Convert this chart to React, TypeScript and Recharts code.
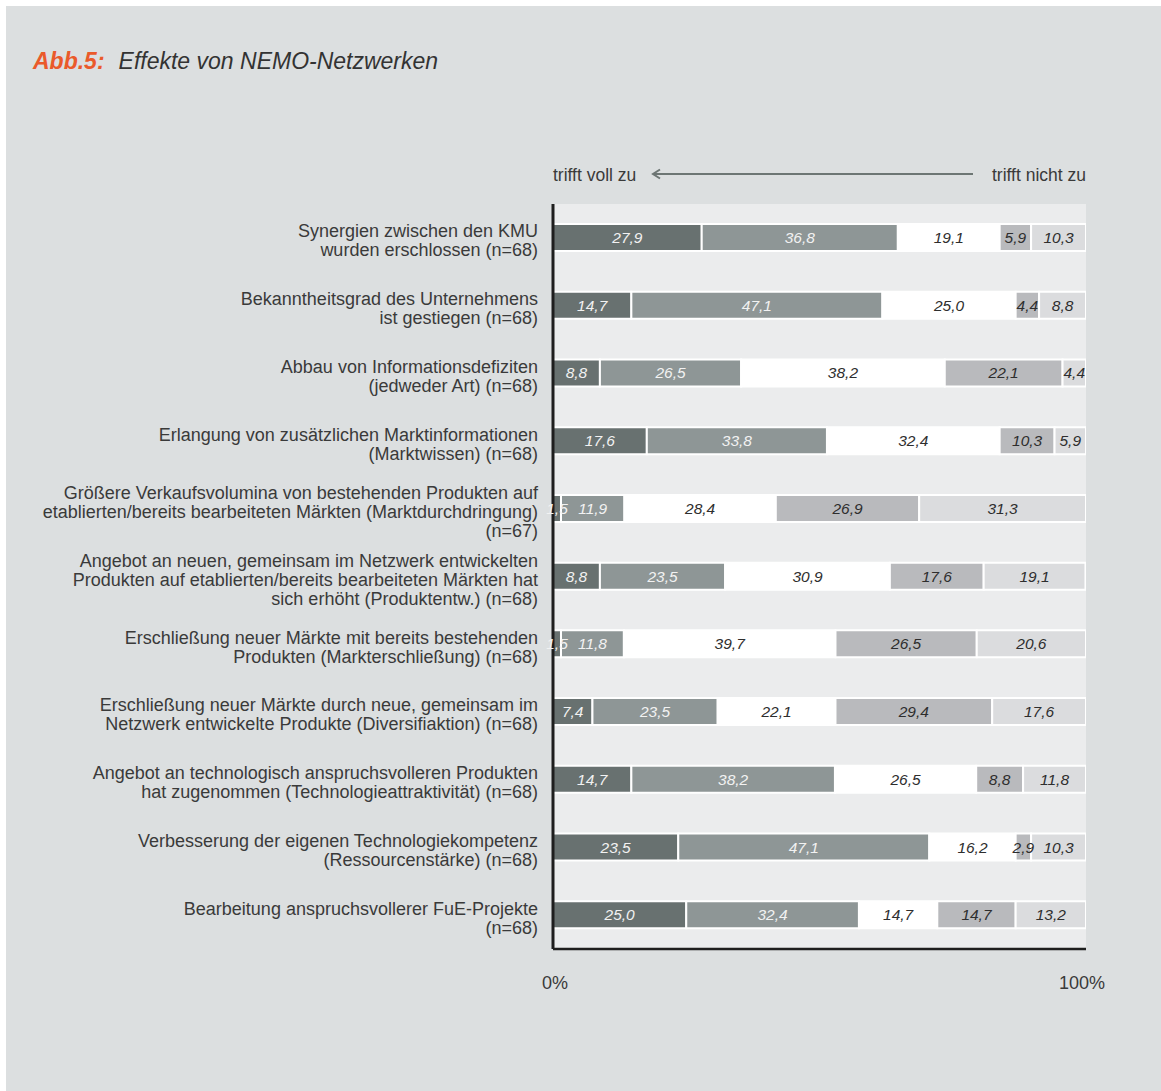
import { BarChart, Bar, XAxis, YAxis, CartesianGrid, LabelList } from 'recharts';

const categories = [
  'Synergien zwischen den KMU\nwurden erschlossen (n=68)',
  'Bekanntheitsgrad des Unternehmens\nist gestiegen (n=68)',
  'Abbau von Informationsdefiziten\n(jedweder Art) (n=68)',
  'Erlangung von zusätzlichen Marktinformationen\n(Marktwissen) (n=68)',
  'Größere Verkaufsvolumina von bestehenden Produkten auf\netablierten/bereits bearbeiteten Märkten (Marktdurchdringung)\n(n=67)',
  'Angebot an neuen, gemeinsam im Netzwerk entwickelten\nProdukten auf etablierten/bereits bearbeiteten Märkten hat\nsich erhöht (Produktentw.) (n=68)',
  'Erschließung neuer Märkte mit bereits bestehenden\nProdukten (Markterschließung) (n=68)',
  'Erschließung neuer Märkte durch neue, gemeinsam im\nNetzwerk entwickelte Produkte (Diversifiaktion) (n=68)',
  'Angebot an technologisch anspruchsvolleren Produkten\nhat zugenommen (Technologieattraktivität) (n=68)',
  'Verbesserung der eigenen Technologiekompetenz\n(Ressourcenstärke) (n=68)',
  'Bearbeitung anspruchsvollerer FuE-Projekte\n(n=68)',
];

const trifftVoll = [27.9, 14.7, 8.8, 17.6, 1.5, 8.8, 1.5, 7.4, 14.7, 23.5, 25.0];
const trifftEher = [36.8, 47.1, 26.5, 33.8, 11.9, 23.5, 11.8, 23.5, 38.2, 47.1, 32.4];
const teilsTeils = [19.1, 25.0, 38.2, 32.4, 28.4, 30.9, 39.7, 22.1, 26.5, 16.2, 14.7];
const eherNicht = [5.9, 4.4, 22.1, 10.3, 26.9, 17.6, 26.5, 29.4, 8.8, 2.9, 14.7];
const trifftNicht = [10.3, 8.8, 4.4, 5.9, 31.3, 19.1, 20.6, 17.6, 11.8, 10.3, 13.2];

const xTicks = [0, 100];

const data = categories.map((name, i) => ({
  name,
  s1: trifftVoll[i],
  s2: trifftEher[i],
  s3: teilsTeils[i],
  s4: eherNicht[i],
  s5: trifftNicht[i],
}));

const series = [
  { key: 's1', fill: '#687170', text: '#f2f2f2' },
  { key: 's2', fill: '#8e9696', text: '#f2f2f2' },
  { key: 's3', fill: '#ffffff', text: '#2e2e2e' },
  { key: 's4', fill: '#b9babd', text: '#2e2e2e' },
  { key: 's5', fill: '#dbdcde', text: '#2e2e2e' },
];

const FONT = '"Liberation Sans", Arial, sans-serif';

const fmt = (v: number) => v.toFixed(1).replace('.', ',');

function makeLabel(color: string) {
  return (props: any) => {
    const { x, y, width, height, value } = props;
    return (
      <text
        x={x + width / 2}
        y={y + height / 2}
        dy={5.5}
        textAnchor="middle"
        fill={color}
        fontFamily={FONT}
        fontStyle="italic"
        fontSize={15.5}
      >
        {fmt(value)}
      </text>
    );
  };
}

function CategoryTick(props: any) {
  const { x, y, payload } = props;
  const lines = String(payload.value).split('\n');
  const lh = 19;
  const start = y - ((lines.length - 1) * lh) / 2;
  return (
    <text x={x} textAnchor="end" fill="#3a3a3a" fontFamily={FONT} fontSize={18}>
      {lines.map((l, i) => (
        <tspan key={i} x={x} y={start + i * lh} dy={9}>
          {l}
        </tspan>
      ))}
    </text>
  );
}

function PercentTick(props: any) {
  const { x, y, payload } = props;
  const shift = payload.value === 0 ? 2 : -4;
  return (
    <text x={x + shift} y={y + 32} textAnchor="middle" fill="#3a3a3a" fontFamily={FONT} fontSize={18}>
      {payload.value}%
    </text>
  );
}

export default function App() {
  return (
    <div style={{ position: 'absolute', left: 0, top: 0, width: 1161, height: 1091, background: '#fff' }}>
      <div style={{ position: 'absolute', left: 6, top: 6, right: 0, bottom: 0, background: '#dcdfe0' }} />
      <div
        style={{
          position: 'absolute',
          left: 33,
          top: 48,
          fontFamily: FONT,
          fontSize: 23,
          fontStyle: 'italic',
          whiteSpace: 'nowrap',
        }}
      >
        <span style={{ color: '#ea5a2b', fontWeight: 'bold' }}>Abb.5:</span>
        <span style={{ color: '#333', marginLeft: 14 }}>Effekte von NEMO-Netzwerken</span>
      </div>
      <svg style={{ position: 'absolute', left: 0, top: 0 }} width={1161} height={220}>
        <text x={553} y={181} fontFamily={FONT} fontSize={17.5} fill="#3a3a3a">
          trifft voll zu
        </text>
        <text x={1086} y={181} textAnchor="end" fontFamily={FONT} fontSize={17.5} fill="#3a3a3a">
          trifft nicht zu
        </text>
        <line x1={654} y1={174} x2={973} y2={174} stroke="#6d7674" strokeWidth={2} />
        <polyline points="660,169.5 653,174 660,178.5" fill="none" stroke="#6d7674" strokeWidth={2} />
      </svg>
      <div style={{ position: 'absolute', left: 0, top: 0 }}>
        <BarChart
          width={1161}
          height={1091}
          data={data}
          layout="vertical"
          margin={{ top: 204, right: 75, bottom: 0, left: 0 }}
          barSize={27}
        >
          <CartesianGrid horizontal={false} vertical={false} fill="#ebeced" />
          <XAxis
            type="number"
            domain={[0, 100]}
            allowDataOverflow
            ticks={xTicks}
            tickLine={false}
            axisLine={{ stroke: '#1e1e1e', strokeWidth: 2.5 }}
            tick={<PercentTick />}
            height={142}
          />
          <YAxis
            type="category"
            dataKey="name"
            width={553}
            tickLine={false}
            tickMargin={9}
            axisLine={{ stroke: '#1e1e1e', strokeWidth: 3 }}
            tick={<CategoryTick />}
            interval={0}
          />
          {series.map((s) => (
            <Bar
              key={s.key}
              dataKey={s.key}
              stackId="a"
              fill={s.fill}
              stroke="#ffffff"
              strokeWidth={2}
              isAnimationActive={false}
            >
              <LabelList dataKey={s.key} content={makeLabel(s.text)} />
            </Bar>
          ))}
        </BarChart>
      </div>
    </div>
  );
}
